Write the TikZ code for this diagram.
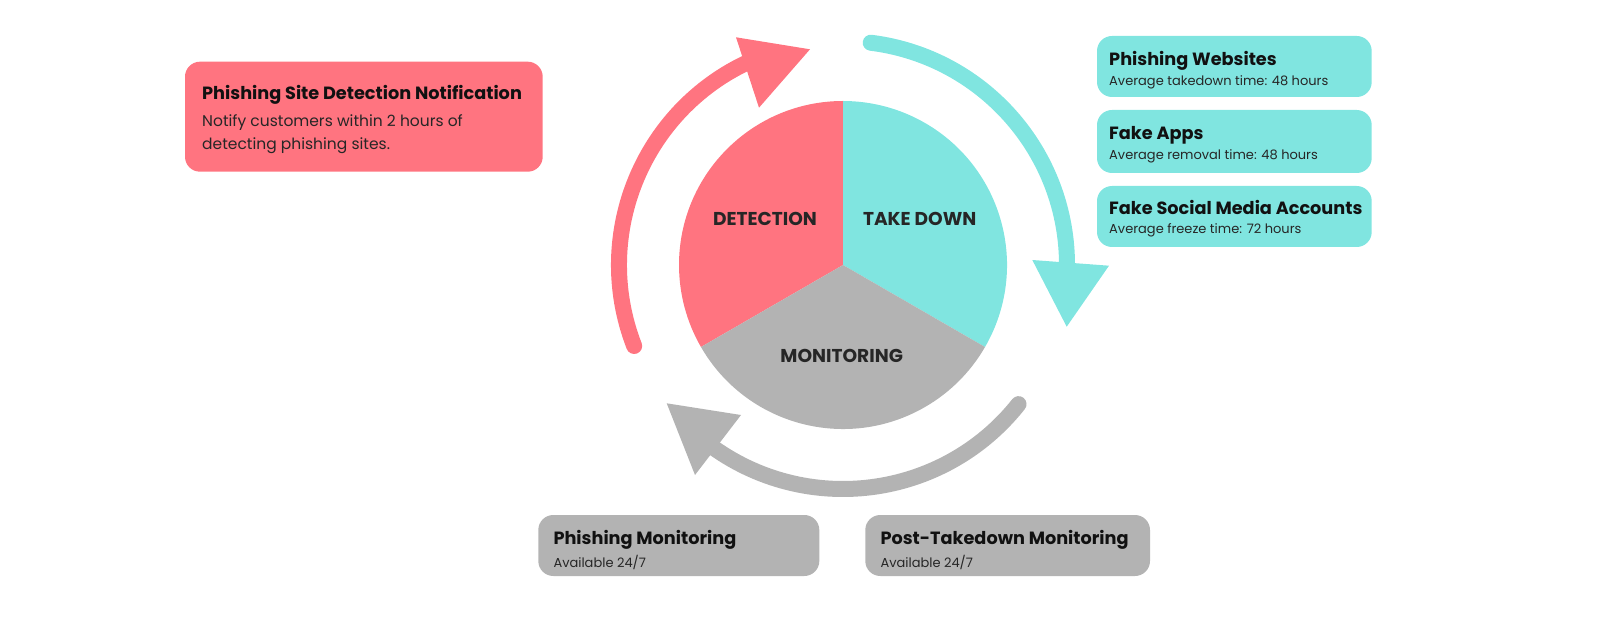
\documentclass[tikz,border=0pt]{standalone}
\usepackage{fontspec}
\setmainfont{Poppins}
\definecolor{pred}{HTML}{FF7480}
\definecolor{pcyan}{HTML}{80E5E0}
\definecolor{pgray}{HTML}{B3B3B3}
\definecolor{ink}{HTML}{111111}
\definecolor{ink2}{HTML}{262626}
\begin{document}
\begin{tikzpicture}[x=1pt,y=1pt,
  card/.style={rounded corners=15pt, inner sep=0pt, outer sep=0pt, anchor=north west},
  ttl/.style={anchor=base west, inner sep=0pt, font=\fontsize{17.7}{20}\selectfont\bfseries, text=ink},
  sub/.style={anchor=base west, inner sep=0pt, font=\fontsize{13}{16}\selectfont, text=ink2},
  body/.style={anchor=base west, inner sep=0pt, font=\fontsize{15.5}{18}\selectfont, text=ink2},
  seg/.style={anchor=center, inner sep=0pt, font=\fontsize{18.6}{20}\selectfont\bfseries, text=ink2},
  ring/.style={line width=16pt, line cap=round}]
\useasboundingbox (0,0) rectangle (1600,627);
\coordinate (C) at (843,362);
% pie
\fill[pred]  (C) -- ++(90:164)  arc[start angle=90,  end angle=210, radius=164] -- cycle;
\fill[pcyan] (C) -- ++(-30:164) arc[start angle=-30, end angle=90,  radius=164] -- cycle;
\fill[pgray] (C) -- ++(210:164) arc[start angle=210, end angle=330, radius=164] -- cycle;
% cycle arrows
\draw[ring, pred]  ([shift={(201.2:224)}]C) arc[start angle=201.2, end angle=113, radius=224];
\fill[pred] (736,589.7) -- (810,577.7) -- (759,519.3) -- cycle;
\draw[ring, pcyan] ([shift={(82.9:224)}]C) arc[start angle=82.9, end angle=-2, radius=224];
\fill[pcyan] (1032.3,367) -- (1109,361.3) -- (1066.7,300.3) -- cycle;
\draw[ring, pgray] ([shift={(-38.4:224)}]C) arc[start angle=-38.4, end angle=-127, radius=224];
\fill[pgray] (741,212) -- (666.7,223.7) -- (695,152) -- cycle;
% pie labels
\node[seg] (det) at (765,407.7) {DETECTION};
\node[seg] (tak) at (919.7,407.7) {TAKE DOWN};
\node[seg] (mon) at (841.7,271) {MONITORING};
% detection card
\node[card, fill=pred, minimum width=357.7pt, minimum height=110pt] (rc) at (185,565.3) {};
\node[ttl] (rct) at (202,527) {Phishing Site Detection Notification};
\node[body] (rcb1) at (202,500.3) {Notify customers within 2 hours of};
\node[body] (rcb2) at (202,477) {detecting phishing sites.};
% take down cards
\node[card, fill=pcyan, minimum width=274.7pt, minimum height=61pt] (c1) at (1097,591) {};
\node[ttl] (c1t) at (1109,561.3) {Phishing Websites};
\node[sub] (c1s) at (1109,541) {Average takedown time: 48 hours};
\node[card, fill=pcyan, minimum width=274.7pt, minimum height=63pt] (c2) at (1097,517) {};
\node[ttl] (c2t) at (1109,487.5) {Fake Apps};
\node[sub] (c2s) at (1109,467.5) {Average removal time: 48 hours};
\node[card, fill=pcyan, minimum width=274.7pt, minimum height=61pt] (c3) at (1097,441) {};
\node[ttl] (c3t) at (1109,412) {Fake Social Media Accounts};
\node[sub] (c3s) at (1109,393.7) {Average freeze time: 72 hours};
% monitoring cards
\node[card, fill=pgray, minimum width=281pt, minimum height=61pt] (g1) at (538.3,112) {};
\node[ttl] (g1t) at (553.3,82.7) {Phishing Monitoring};
\node[sub] (g1s) at (553.3,60) {Available 24/7};
\node[card, fill=pgray, minimum width=284.7pt, minimum height=61pt] (g2) at (865.3,112) {};
\node[ttl] (g2t) at (880.3,82.7) {Post-Takedown Monitoring};
\node[sub] (g2s) at (880.3,60) {Available 24/7};
\end{tikzpicture}
\end{document}
